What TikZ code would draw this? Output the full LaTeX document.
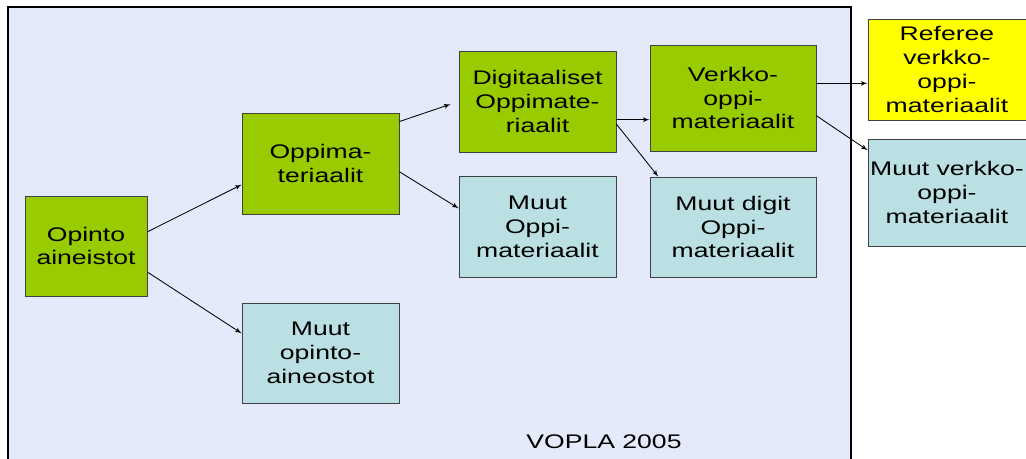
\documentclass[tikz,border=0pt]{standalone}
\usepackage{fontspec}
\setmainfont{Liberation Sans}[FakeStretch=1.35]
\usetikzlibrary{arrows}
\definecolor{boxgreen}{RGB}{153,204,0}
\definecolor{boxblue}{RGB}{186,224,227}
\definecolor{boxyellow}{RGB}{255,255,0}
\definecolor{backblue}{RGB}{228,234,250}
\begin{document}
\begin{tikzpicture}[->,>=latex',x=0.025cm,y=-0.025cm,line width=0.6pt,
	main node/.style={draw=black!75,line width=0.6pt,align=center,inner sep=0pt,
		font=\fontsize{14}{17}\selectfont},
	green node/.style={main node,fill=boxgreen},
	blue node/.style={main node,fill=boxblue},
	yellow node/.style={main node,fill=boxyellow}]
	
	\useasboundingbox (0,0) rectangle (1026,459);
	\draw[-,fill=backblue,draw=black,line width=0.8pt] (8,7) rectangle (851,480);
	
	\node[green node,minimum width=3.05cm,minimum height=2.5cm] (opinto) at (86,246) {Opinto\\aineistot};
	\node[green node,minimum width=3.925cm,minimum height=2.525cm] (oppima) at (320.5,163.5) {Oppima-\\teriaalit};
	\node[blue node,minimum width=3.925cm,minimum height=2.5cm] (muutopinto) at (320.5,353) {Muut\\opinto-\\aineostot};
	\node[green node,minimum width=3.925cm,minimum height=2.525cm] (digit) at (537.5,101.5) {Digitaaliset\\Oppimate-\\riaalit};
	\node[blue node,minimum width=3.925cm,minimum height=2.525cm] (muutoppi) at (537.5,226.5) {Muut\\Oppi-\\materiaalit};
	\node[green node,minimum width=4.15cm,minimum height=2.65cm] (verkko) at (733,98) {Verkko-\\oppi-\\materiaalit};
	\node[blue node,minimum width=4.15cm,minimum height=2.5cm] (muutdigit) at (733,227) {Muut digit\\Oppi-\\materiaalit};
	\node[yellow node,minimum width=3.95cm,minimum height=2.525cm] (referee) at (947,69.5) {Referee\\verkko-\\oppi-\\materiaalit};
	\node[blue node,minimum width=3.95cm,minimum height=2.675cm] (muutverkko) at (947,192.5) {Muut verkko-\\oppi-\\materiaalit};
	\node[font=\fontsize{14}{17}\selectfont] (vopla) at (604,442) {VOPLA 2005};
	
	\path
	(opinto.13) edge (oppima.195)
	(opinto.-23) edge (muutopinto.166)
	(oppima.28) edge[shorten >=6pt] (digit.west)
	(oppima.-6) edge (muutoppi.167)
	(digit.-13) edge (digit.-13 -| verkko.west)
	(digit.-16) edge (muutdigit.146)
	(verkko.10) edge (verkko.10 -| referee.west)
	(verkko.-12) edge (muutverkko.152)
	;
\end{tikzpicture}
\end{document}
